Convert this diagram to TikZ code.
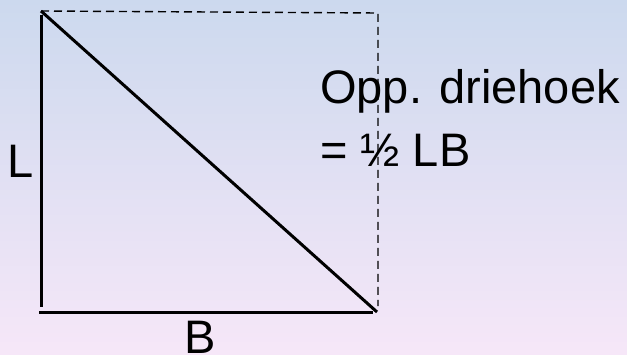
\documentclass[tikz,border=0pt]{standalone}
\usepackage{fontspec}
\setmainfont{Liberation Sans}
\definecolor{bgtop}{RGB}{204,217,238}
\definecolor{bgbot}{RGB}{246,231,248}
\tikzset{
  solidedge/.style={line width=3pt, black},
  dashedge/.style={line width=1.4pt, black, dash pattern=on 8pt off 5pt},
  lbl/.style={inner sep=0pt, anchor=base west, font=\fontsize{47}{50}\selectfont},
  txt/.style={inner sep=0pt, anchor=base west, font=\fontsize{47}{56}\selectfont}
}
\begin{document}
\begin{tikzpicture}[x=1pt,y=1pt]
\useasboundingbox (0,0) rectangle (627,354);
\shade[top color=bgtop, bottom color=bgbot] (0,0) rectangle (627,354);
% corners
\coordinate (tl) at (41,343);
\coordinate (bl) at (41,42);
\coordinate (br) at (377,42);
\coordinate (tr) at (378,341);
\coordinate (vtop) at (41,339);
\coordinate (vbot) at (41,47);
\coordinate (hleft) at (39,42);
\coordinate (hright) at (373,42);
\coordinate (dbot) at (378,48);
% dashed rectangle parts
\draw[dashedge] (tl) -- (tr) -- (dbot);
% triangle
\draw[solidedge] (vtop) -- (vbot);
\draw[solidedge] (hleft) -- (hright);
\draw[solidedge] (tl) -- (br);
% labels
\node[lbl] (L) at (7,176) {L};
\node[lbl] (B) at (184,0.5) {B};
\node[txt] (t1) at (320,250) {Opp. driehoek};
\node[txt] (t2) at (320,187) {= ½ LB};
\end{tikzpicture}
\end{document}
